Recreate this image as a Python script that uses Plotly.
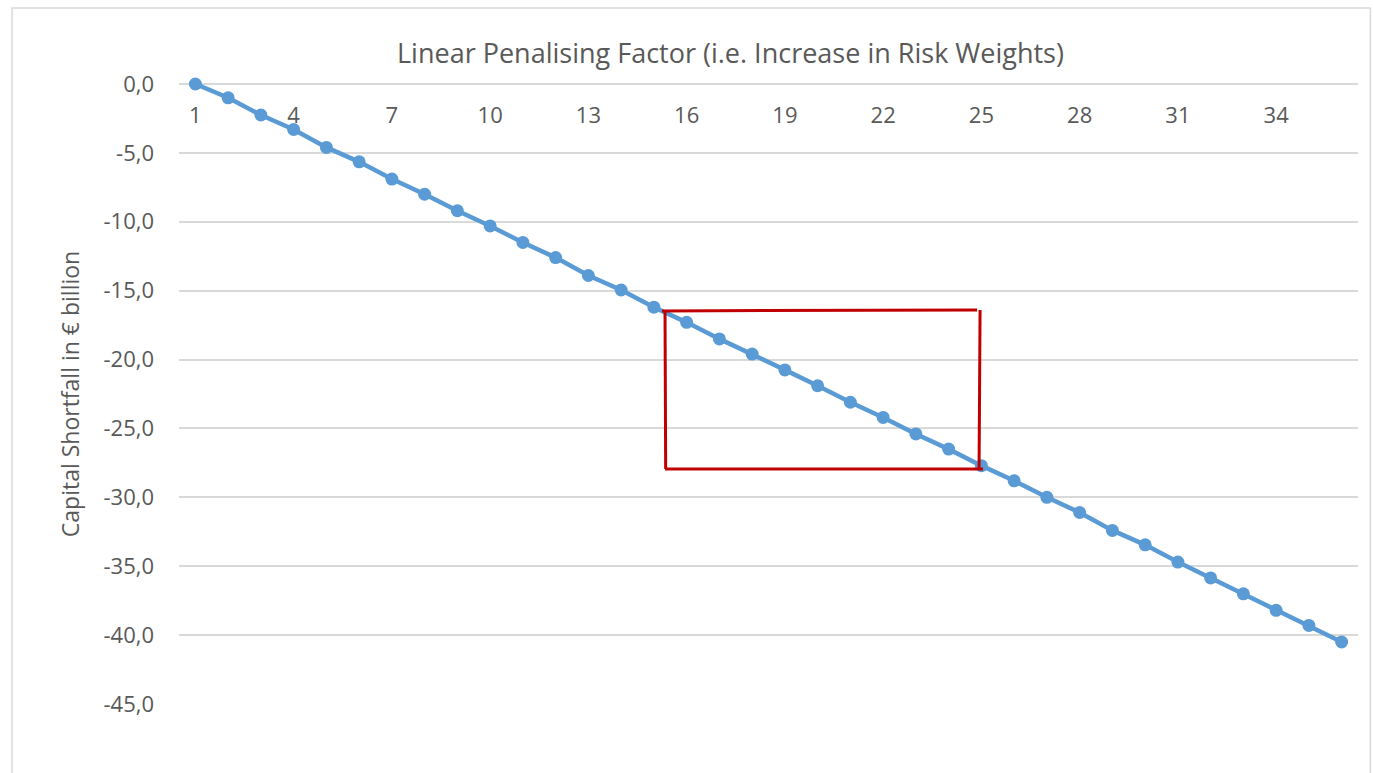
import plotly.graph_objects as go

# Penalising factor steps and resulting capital shortfall (€ billion)
factor = list(range(1, 37))
shortfall = [0.0, -1.0, -2.25, -3.3, -4.6, -5.65, -6.9, -8.0, -9.2, -10.3,
             -11.5, -12.6, -13.9, -14.95, -16.2, -17.3, -18.5, -19.6, -20.75, -21.9,
             -23.1, -24.2, -25.4, -26.5, -27.7, -28.8, -30.0, -31.1, -32.4, -33.45,
             -34.7, -35.85, -37.0, -38.2, -39.3, -40.5]

x_ticks = list(range(1, 37, 3))
y_ticks = [0, -5, -10, -15, -20, -25, -30, -35, -40, -45]
y_ticktext = ["0,0", "-5,0", "-10,0", "-15,0", "-20,0", "-25,0", "-30,0",
              "-35,0", "-40,0", "-45,0"]

# Highlight box around factors 16-25 (hand-drawn outline, four separate strokes)
box_segments = [
    # (x0, y0, x1, y1)
    (15.25, -16.47, 24.87, -16.40),   # top
    (15.34, -16.47, 15.36, -27.94),   # left
    (24.96, -16.40, 24.93, -27.94),   # right
    (15.34, -27.94, 25.05, -27.94),   # bottom
]

FONT = "Open Sans"
GREY_TXT = "#595959"
GRID = "#D9D9D9"

fig = go.Figure()
fig.add_trace(go.Scatter(
    x=factor, y=shortfall, mode="lines+markers",
    line=dict(color="#5B9BD5", width=4.5),
    marker=dict(color="#5B9BD5", size=13),
    hoverinfo="x+y", showlegend=False, cliponaxis=False,
))

shapes = []
for x0, y0, x1, y1 in box_segments:
    shapes.append(dict(type="line", xref="x", yref="y", x0=x0, y0=y0, x1=x1, y1=y1,
                       line=dict(color="#C00000", width=3), layer="above"))

# outer chart frame
shapes.append(dict(type="rect", xref="paper", yref="paper",
                   x0=-0.1416, y0=-0.13, x1=1.0105, y1=1.1226,
                   line=dict(color=GRID, width=1.5), layer="below"))

fig.update_layout(
    width=1373, height=773,
    margin=dict(l=179, r=15, t=84, b=69),
    paper_bgcolor="white", plot_bgcolor="white",
    font=dict(family=FONT, color=GREY_TXT, size=22),
    shapes=shapes,
    # category axis crosses at zero (top edge); labels hang just below it
    xaxis=dict(
        range=[0.5, 36.5], side="bottom", anchor="free", position=1.0,
        tickvals=x_ticks, ticktext=[str(v) for v in x_ticks],
        ticklabelstandoff=16,
        showgrid=False, zeroline=False, showline=False, ticks="",
        tickfont=dict(size=22, color=GREY_TXT),
    ),
    yaxis=dict(
        range=[-45, 0.001], tickvals=y_ticks, ticktext=y_ticktext,
        showgrid=True, gridcolor=GRID, gridwidth=1.5,
        zeroline=True, zerolinecolor=GRID, zerolinewidth=1.5,
        showline=False, ticks="",
        ticklabelstandoff=24,
        tickfont=dict(size=22, color=GREY_TXT),
        title=dict(text="Capital Shortfall in € billion",
                   font=dict(size=23, color=GREY_TXT), standoff=17),
    ),
    annotations=[dict(
        text="Linear Penalising Factor (i.e. Increase in Risk Weights)",
        xref="paper", yref="paper", x=0.468, y=1.05,
        xanchor="center", yanchor="middle", showarrow=False,
        font=dict(size=27, color=GREY_TXT, family=FONT),
    )],
)

fig.write_html("out.html")
